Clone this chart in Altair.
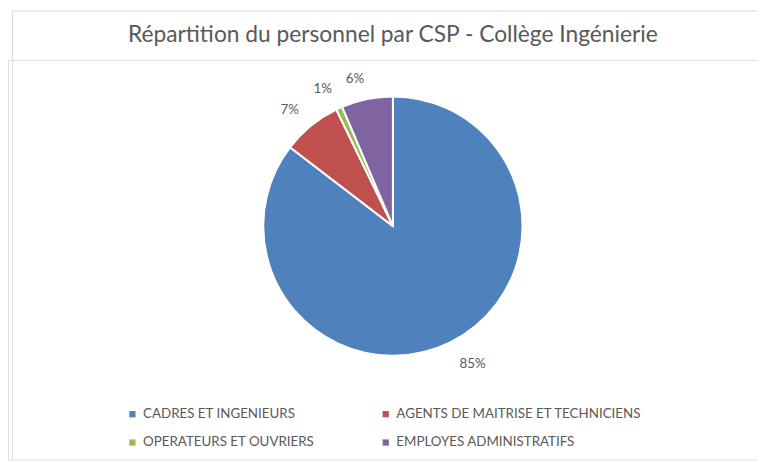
import altair as alt
import pandas as pd

categories = ["CADRES ET INGENIEURS", "AGENTS DE MAITRISE ET TECHNICIENS",
              "OPERATEURS ET OUVRIERS", "EMPLOYES ADMINISTRATIFS"]
values = [85.4, 7.4, 0.8, 6.4]
labels = ["85%", "7%", "1%", "6%"]
colors = ["#4F81BD", "#C0504D", "#9BBB59", "#8064A2"]
title_text = "Répartition du personnel par CSP - Collège Ingénierie"

df = pd.DataFrame({"cat": categories, "value": values, "label": labels,
                   "order": list(range(len(categories)))})
total = float(sum(values))

W, H = 757, 404
CX, CY = 389, 168
FONT = "Lato"
GREY = "#595959"

base = alt.Chart(df).encode(
    theta=alt.Theta("value:Q", stack=True),
    order=alt.Order("order:Q"),
)

arcs = base.mark_arc(outerRadius=131, stroke="white", strokeWidth=2).encode(
    x=alt.value(CX), y=alt.value(CY),
    color=alt.Color("cat:N", sort=categories,
                    scale=alt.Scale(domain=categories, range=colors),
                    legend=alt.Legend(title=None, orient="none", legendX=119, legendY=351,
                                      direction="horizontal",
                                      columns=2, columnPadding=65, rowPadding=14,
                                      symbolType="square", symbolSize=40,
                                      symbolStrokeWidth=0, labelFont=FONT,
                                      labelFontSize=13.5, labelColor=GREY,
                                      labelOffset=4, labelLimit=400)),
)

label_base = alt.Chart(df).transform_stack(
    stack="value", groupby=[], as_=["v0", "v1"], sort=[alt.SortField("order")]
).transform_calculate(mid="(datum.v0 + datum.v1) / 2").encode(
    theta=alt.Theta("mid:Q", stack=None, scale=alt.Scale(domain=[0, total])),
    x=alt.value(CX), y=alt.value(CY), text="label:N",
)

big_texts = label_base.transform_filter(alt.datum.value > 50).mark_text(
    radius=155, dx=12, font=FONT, fontSize=13.5, color=GREY
)
small_texts = label_base.transform_filter(alt.datum.value <= 50).mark_text(
    radius=152, dx=-8, font=FONT, fontSize=13.5, color=GREY
)

frame_df = pd.DataFrame({"k": [0]})
title_mark = alt.Chart(pd.DataFrame({"t": [title_text]})).mark_text(
    font=FONT, fontSize=23, color=GREY, baseline="middle", align="center"
).encode(x=alt.value(CX), y=alt.value(-25), text="t:N")

left_line = alt.Chart(frame_df).mark_rule(color="#D9D9D9", strokeWidth=1).encode(
    x=alt.value(4.5), y=alt.value(-50), y2=alt.value(H)
)
top_line = alt.Chart(frame_df).mark_rule(color="#D9D9D9", strokeWidth=1).encode(
    x=alt.value(4.5), x2=alt.value(W), y=alt.value(-49.5)
)

chart = alt.layer(left_line, top_line, arcs, big_texts, small_texts, title_mark).properties(
    width=W, height=H,
    autosize=alt.AutoSizeParams(type="none"),
    padding={"left": 0, "top": 50, "right": 0, "bottom": 0},
).resolve_scale(theta="independent").configure_view(
    strokeWidth=0, stroke="transparent").configure(background="white")

chart.save("out.html", embed_options={"renderer": "svg", "actions": False})
